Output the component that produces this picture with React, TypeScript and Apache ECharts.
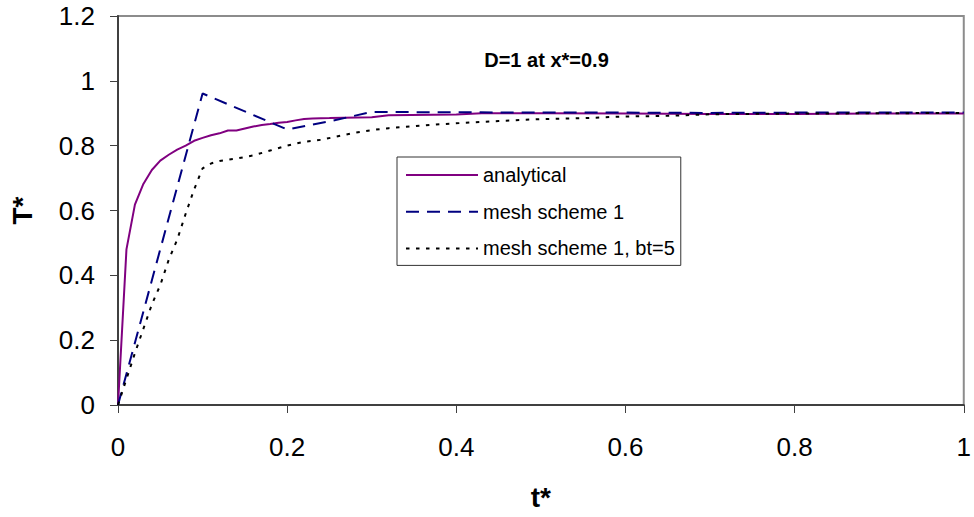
import React, { useEffect, useRef } from "react";
import * as echarts from "echarts";

const FONT = "'Liberation Sans', Arial, sans-serif";

const titleText = "D=1 at x*=0.9";
const xName = "t*";
const yName = "T*";

const xTicks = [0, 0.2, 0.4, 0.6, 0.8, 1];
const yTicks = [0, 0.2, 0.4, 0.6, 0.8, 1, 1.2];

const seriesNames = ["analytical", "mesh scheme 1", "mesh scheme 1, bt=5"];

const tAnalytical = [0, 0.01, 0.02, 0.03, 0.04, 0.05, 0.06, 0.07, 0.08, 0.09, 0.1, 0.11, 0.12, 0.13, 0.14, 0.15, 0.16, 0.17, 0.18, 0.19, 0.2, 0.21, 0.22, 0.23, 0.25, 0.3, 0.32, 0.4, 0.43, 0.5, 0.6, 0.7, 0.8, 0.9, 1.0];
const analytical = [0, 0.48, 0.618, 0.682, 0.725, 0.754, 0.772, 0.788, 0.8, 0.815, 0.824, 0.832, 0.838, 0.847, 0.847, 0.853, 0.859, 0.864, 0.867, 0.871, 0.873, 0.878, 0.882, 0.884, 0.885, 0.888, 0.894, 0.896, 0.9, 0.9, 0.899, 0.898, 0.898, 0.899, 0.899];

const tMesh = [0, 0.1, 0.2, 0.25, 0.3, 0.4, 0.5, 0.6, 0.7, 0.8, 0.9, 1.0];
const mesh = [0, 0.961, 0.85, 0.875, 0.904, 0.903, 0.902, 0.902, 0.901, 0.902, 0.902, 0.902];

const tBt5 = [0, 0.02, 0.04, 0.05, 0.06, 0.07, 0.08, 0.09, 0.1, 0.11, 0.12, 0.14, 0.16, 0.18, 0.2, 0.22, 0.24, 0.26, 0.28, 0.3, 0.32, 0.35, 0.38, 0.42, 0.45, 0.5, 0.55, 0.6, 0.65, 0.7, 0.8, 0.9, 1.0];
const bt5 = [0, 0.16, 0.31, 0.37, 0.448, 0.51, 0.59, 0.665, 0.73, 0.745, 0.753, 0.76, 0.77, 0.785, 0.8, 0.812, 0.818, 0.829, 0.84, 0.848, 0.854, 0.86, 0.866, 0.872, 0.876, 0.882, 0.885, 0.89, 0.892, 0.897, 0.899, 0.9, 0.901];

const zip = (a: number[], b: number[]) => a.map((v, i) => [v, b[i]]);

export default function App() {
  const ref = useRef<HTMLDivElement>(null);
  useEffect(() => {
    if (!ref.current) return;
    const chart = echarts.init(ref.current, null, { renderer: "svg" });
    chart.setOption({
      animation: false,
      backgroundColor: "#fff",
      grid: {
        left: 118,
        right: 7,
        top: 16,
        bottom: 112,
        show: true,
        borderColor: "#8c8c8c",
        borderWidth: 2,
        backgroundColor: "#fff",
      },
      graphic: [
        {
          type: "text",
          x: 546.5,
          y: 59.5,
          style: {
            text: titleText,
            font: `bold 20px ${FONT}`,
            fill: "#000",
            textAlign: "center",
            textVerticalAlign: "middle",
          },
        },
      ],
      legend: {
        orient: "vertical",
        align: "left",
        left: 397,
        top: 157,
        padding: [8, 6, 7, 8],
        itemWidth: 72,
        itemHeight: 20,
        itemGap: 16.7,
        borderColor: "#333",
        borderWidth: 1,
        backgroundColor: "#fff",
        itemStyle: { opacity: 0 },
        textStyle: { fontFamily: FONT, fontSize: 20, color: "#000" },
        data: seriesNames,
      },
      xAxis: {
        type: "value",
        min: 0,
        max: 1,
        interval: 0.2,
        name: xName,
        nameLocation: "middle",
        nameGap: 78,
        nameTextStyle: { fontFamily: FONT, fontSize: 28, fontWeight: "bold", color: "#000" },
        axisLine: { show: true, lineStyle: { color: "#404040", width: 2 } },
        axisTick: { show: true, length: 8, lineStyle: { color: "#404040", width: 1 } },
        axisLabel: {
          fontFamily: FONT,
          fontSize: 26,
          color: "#000",
          margin: 29,
          formatter: (v: number) => {
            const r = xTicks.find((t) => Math.abs(t - v) < 1e-9);
            return r === undefined ? "" : String(r);
          },
        },
        splitLine: { show: false },
      },
      yAxis: {
        type: "value",
        min: 0,
        max: 1.2,
        interval: 0.2,
        name: yName,
        nameLocation: "middle",
        nameRotate: 90,
        nameGap: 82,
        nameTextStyle: { fontFamily: FONT, fontSize: 28, fontWeight: "bold", color: "#000" },
        axisLine: { show: true, lineStyle: { color: "#404040", width: 2 } },
        axisTick: { show: true, length: 8, lineStyle: { color: "#404040", width: 1 } },
        axisLabel: {
          fontFamily: FONT,
          fontSize: 26,
          color: "#000",
          margin: 23,
          formatter: (v: number) => {
            const r = yTicks.find((t) => Math.abs(t - v) < 1e-9);
            return r === undefined ? "" : String(r);
          },
        },
        splitLine: { show: false },
      },
      series: [
        {
          name: seriesNames[0],
          type: "line",
          data: zip(tAnalytical, analytical),
          symbol: "none",
          lineStyle: { color: "#800080", width: 2 },
          itemStyle: { color: "#800080" },
        },
        {
          name: seriesNames[1],
          type: "line",
          data: zip(tMesh, mesh),
          symbol: "none",
          lineStyle: { color: "#000080", width: 2, type: [13, 8] },
          itemStyle: { color: "#000080" },
        },
        {
          name: seriesNames[2],
          type: "line",
          data: zip(tBt5, bt5),
          symbol: "none",
          lineStyle: { color: "#000", width: 2, type: [3.5, 6.5] },
          itemStyle: { color: "#000" },
        },
      ],
    });
    return () => chart.dispose();
  }, []);
  return (
    <div
      ref={ref}
      style={{ position: "absolute", left: 0, top: 0, width: 974, height: 517 }}
    />
  );
}
